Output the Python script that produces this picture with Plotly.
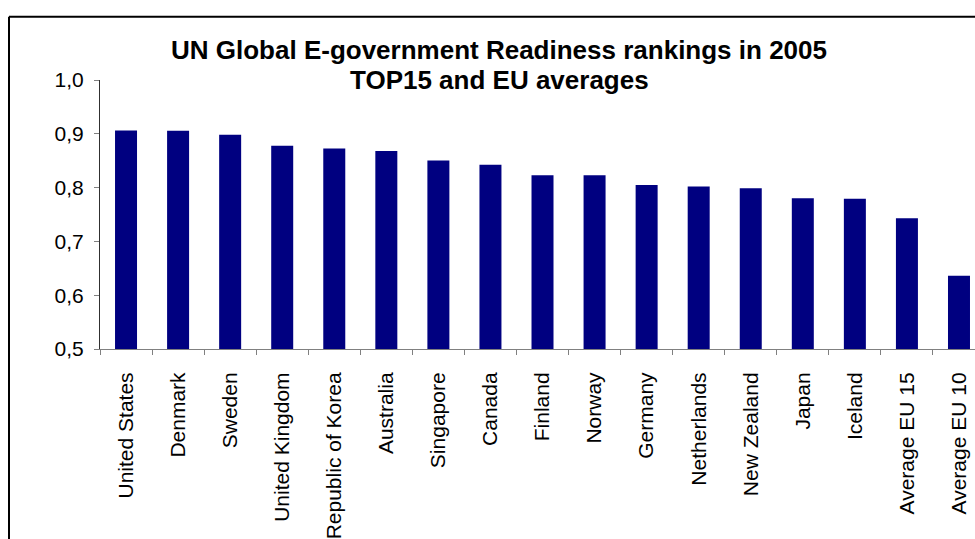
import plotly.graph_objects as go

# UN Global E-government Readiness index, 2005
countries = [
    "United States", "Denmark", "Sweden", "United Kingdom", "Republic of Korea",
    "Australia", "Singapore", "Canada", "Finland", "Norway", "Germany",
    "Netherlands", "New Zealand", "Japan", "Iceland", "Average EU 15", "Average EU 10",
]
readiness = [
    0.9062, 0.9058, 0.8983, 0.8777, 0.8727, 0.8679, 0.8503, 0.8425, 0.8231,
    0.8228, 0.8050, 0.8021, 0.7987, 0.7801, 0.7794, 0.743, 0.636,
]
y_ticks = [0.5, 0.6, 0.7, 0.8, 0.9, 1.0]
title_lines = ["UN Global E-government Readiness rankings in 2005", "TOP15 and EU averages"]

W, H = 975, 539
ML, MR, MT, MB = 100, 0, 80, 187
plot_w = W - ML - MR
plot_h = H - MT - MB
slot = 52.06  # pixel width of one category slot

fig = go.Figure(
    go.Bar(
        x=countries,
        y=readiness,
        marker=dict(color="#000080", line=dict(width=0)),
        hoverinfo="x+y",
    )
)


def px_x(p):
    return (p - ML) / plot_w


def px_y(p):
    return (H - MB - p) / plot_h


title_font = dict(family="Liberation Sans, Arial, sans-serif", size=26, color="black",
                  weight="bold")
annotations = [
    dict(text=line, xref="paper", yref="paper", x=px_x(499), y=px_y(yc),
         xanchor="center", yanchor="middle", showarrow=False, font=title_font)
    for line, yc in zip(title_lines, [50, 80])
]

frame = dict(color="black", width=2)
fig.update_layout(
    width=W,
    height=H,
    margin=dict(l=ML, r=MR, t=MT, b=MB, pad=0),
    paper_bgcolor="white",
    plot_bgcolor="white",
    separators=",.",
    bargap=1 - 22 / slot,
    showlegend=False,
    font=dict(family="Liberation Sans, Arial, sans-serif", color="black", size=21),
    annotations=annotations,
    xaxis=dict(
        type="category",
        range=[-0.5, -0.5 + plot_w / slot],
        tickangle=-90,
        ticks="outside",
        ticklen=5,
        tickwidth=1,
        tickcolor="#808080",
        tickson="boundaries",
        showline=True,
        linecolor="#808080",
        linewidth=1,
        showgrid=False,
        ticklabelstandoff=14,
        tickfont=dict(size=21),
    ),
    yaxis=dict(
        range=[0.5, 1.0],
        tickvals=y_ticks,
        tickformat=".1f",
        ticks="outside",
        ticklen=5,
        tickwidth=1,
        tickcolor="#808080",
        showline=True,
        linecolor="#303030",
        linewidth=1,
        showgrid=False,
        zeroline=False,
        ticklabelstandoff=6,
        tickfont=dict(size=21),
    ),
    shapes=[
        dict(type="line", xref="paper", yref="paper",
             x0=px_x(9), x1=px_x(W + 5), y0=px_y(16), y1=px_y(16), line=frame),
        dict(type="line", xref="paper", yref="paper",
             x0=px_x(9), x1=px_x(9), y0=px_y(16), y1=px_y(H + 5), line=frame),
    ],
)

fig.write_html("out.html")
